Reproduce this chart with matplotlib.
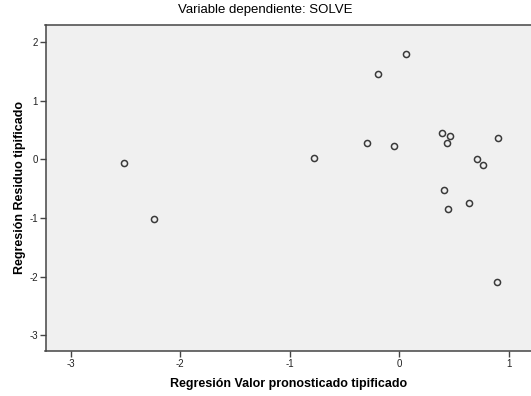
import matplotlib
matplotlib.use("Agg")
import matplotlib.pyplot as plt

# standardized predicted value (x) vs standardized residual (y)
pred = [-2.51, -2.24, -0.78, 0.06, -0.20, -0.30, -0.05, 0.39, 0.46, 0.43,
        0.90, 0.71, 0.76, 0.41, 0.63, 0.44, 0.89]
resid = [-0.06, -1.02, 0.02, 1.80, 1.46, 0.27, 0.23, 0.45, 0.40, 0.27,
         0.37, 0.01, -0.09, -0.52, -0.75, -0.85, -2.09]
xticks = [-3, -2, -1, 0, 1]
yticks = [-3, -2, -1, 0, 1, 2]

plt.rcParams["font.family"] = ["Liberation Sans", "DejaVu Sans"]
plt.rcParams["axes.unicode_minus"] = False

fig = plt.figure(figsize=(5.31, 3.96), dpi=100)
ax = fig.add_axes([45.5 / 531, 45 / 396, (531 - 45.5) / 531, (371 - 45) / 396])
ax.set_facecolor("#f0f0f0")

ax.plot(pred, resid, linestyle="none", marker="o", markersize=4.4,
        markerfacecolor="none", markeredgecolor="#3a3a3a", markeredgewidth=1.1)

ax.set_xlim(-3.23, 1.20)
ax.set_ylim(-3.27, 2.29)
ax.set_xticks(xticks)
ax.set_yticks(yticks)
ax.tick_params(direction="out", length=4, width=1, color="#444444",
               labelsize=7, labelcolor="#222222", pad=1.5)

for side in ("left", "bottom", "top"):
    ax.spines[side].set_color("#444444")
    ax.spines[side].set_linewidth(1.1)
ax.spines["right"].set_visible(False)

ax.set_xlabel("Regresión Valor pronosticado tipificado", fontsize=9,
              fontweight="bold", labelpad=7)
ax.set_ylabel("Regresión Residuo tipificado", fontsize=9,
              fontweight="bold", labelpad=2)
fig.suptitle("Variable dependiente: SOLVE", x=265 / 531, y=1 - 4 / 396,
             va="top", fontsize=9.5)

fig.savefig("out.png", dpi=100)
